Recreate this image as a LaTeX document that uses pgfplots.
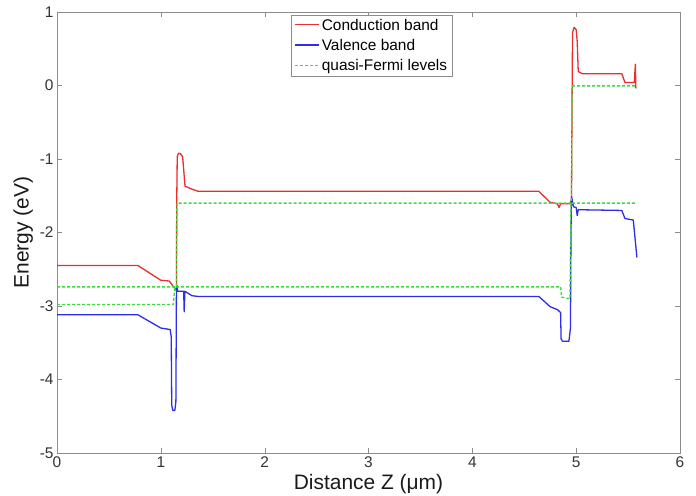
\documentclass[border=0pt]{standalone}
\usepackage{fontspec}
\setmainfont{Liberation Sans}
\usepackage{pgfplots}
\pgfplotsset{compat=1.18}
\definecolor{cbcol}{RGB}{235,45,45}
\definecolor{vbcol}{RGB}{45,45,235}
\definecolor{qfcol}{RGB}{60,220,60}
\begin{document}
\begin{tikzpicture}
\useasboundingbox (-57bp,-43bp) rectangle (639bp,453bp);
\begin{axis}[
  at={(0,0)}, anchor=south west,
  scale only axis, width=623bp, height=441bp,
  xmin=0, xmax=6, ymin=-5, ymax=1,
  xtick={0,1,2,3,4,5,6}, ytick={-5,-4,-3,-2,-1,0,1},
  tick align=inside, major tick length=5bp,
  axis line style={black!45}, tick style={black!45},
  tick label style={font=\fontsize{15.5}{18}\selectfont, text=black!80},
  /pgf/number format/assume math mode=true,
  xlabel={Distance Z (μm)}, ylabel={Energy (eV)},
  label style={font=\fontsize{21}{24}\selectfont, text=black!90},
  legend style={at={(0.376,0.994)}, anchor=north west, draw=black!45,
    font=\fontsize{15.5}{17}\selectfont, row sep=3.6bp,
    nodes={inner ysep=2bp}},
  legend cell align=left,
  legend image code/.code={\draw[#1] (0cm,0.02cm) -- (0.85cm,0.02cm);},
  every axis plot/.append style={line width=1.3bp, line join=round},
]
\addplot[color=cbcol] coordinates {
(0,-2.45) (0.78,-2.45) (1.0,-2.65) (1.08,-2.66) (1.14,-2.77) (1.15,-2.79)
(1.153,-1.6) (1.158,-0.97) (1.17,-0.92) (1.19,-0.93) (1.21,-0.97) (1.233,-1.37)
(1.30,-1.41) (1.36,-1.44) (4.64,-1.44) (4.75,-1.59) (4.82,-1.61) (4.835,-1.66)
(4.85,-1.61) (4.94,-1.61) (4.955,-1.55) (4.96,-0.3) (4.965,0.72) (4.98,0.79)
(5.0,0.76) (5.01,0.6) (5.02,0.19) (5.06,0.16) (5.44,0.16) (5.47,0.04)
(5.56,0.04) (5.57,0.29) (5.575,-0.04)
};
\addlegendentry{Conduction band}
\addplot[color=vbcol] coordinates {
(0,-3.12) (0.78,-3.12) (1.0,-3.30) (1.09,-3.32) (1.10,-3.42) (1.105,-4.35)
(1.115,-4.42) (1.135,-4.42) (1.145,-4.30) (1.15,-2.85) (1.155,-2.72) (1.16,-2.80)
(1.22,-2.80) (1.225,-3.08) (1.232,-2.80) (1.30,-2.86) (1.36,-2.87) (4.64,-2.87)
(4.75,-3.01) (4.82,-3.05) (4.85,-3.09) (4.855,-3.45) (4.87,-3.48) (4.93,-3.48)
(4.945,-3.3) (4.95,-2.0) (4.955,-1.51) (4.975,-1.65) (5.0,-1.66) (5.01,-1.77)
(5.02,-1.69) (5.44,-1.70) (5.47,-1.81) (5.55,-1.83) (5.585,-2.34)
};
\addlegendentry{Valence band}
\addplot[color=qfcol, dash pattern=on 3bp off 2bp] coordinates {
(0,-2.74) (1.15,-2.74) (1.155,-1.60) (4.955,-1.60) (4.96,-0.005) (5.58,-0.005)
};
\addlegendentry{quasi-Fermi levels}
\addplot[color=qfcol, dash pattern=on 3bp off 2bp, forget plot] coordinates {
(0,-2.98) (1.12,-2.98) (1.135,-2.74) (4.85,-2.74) (4.86,-2.88) (4.94,-2.90)
(4.95,-1.60) (5.58,-1.60)
};
\end{axis}
\end{tikzpicture}
\end{document}
